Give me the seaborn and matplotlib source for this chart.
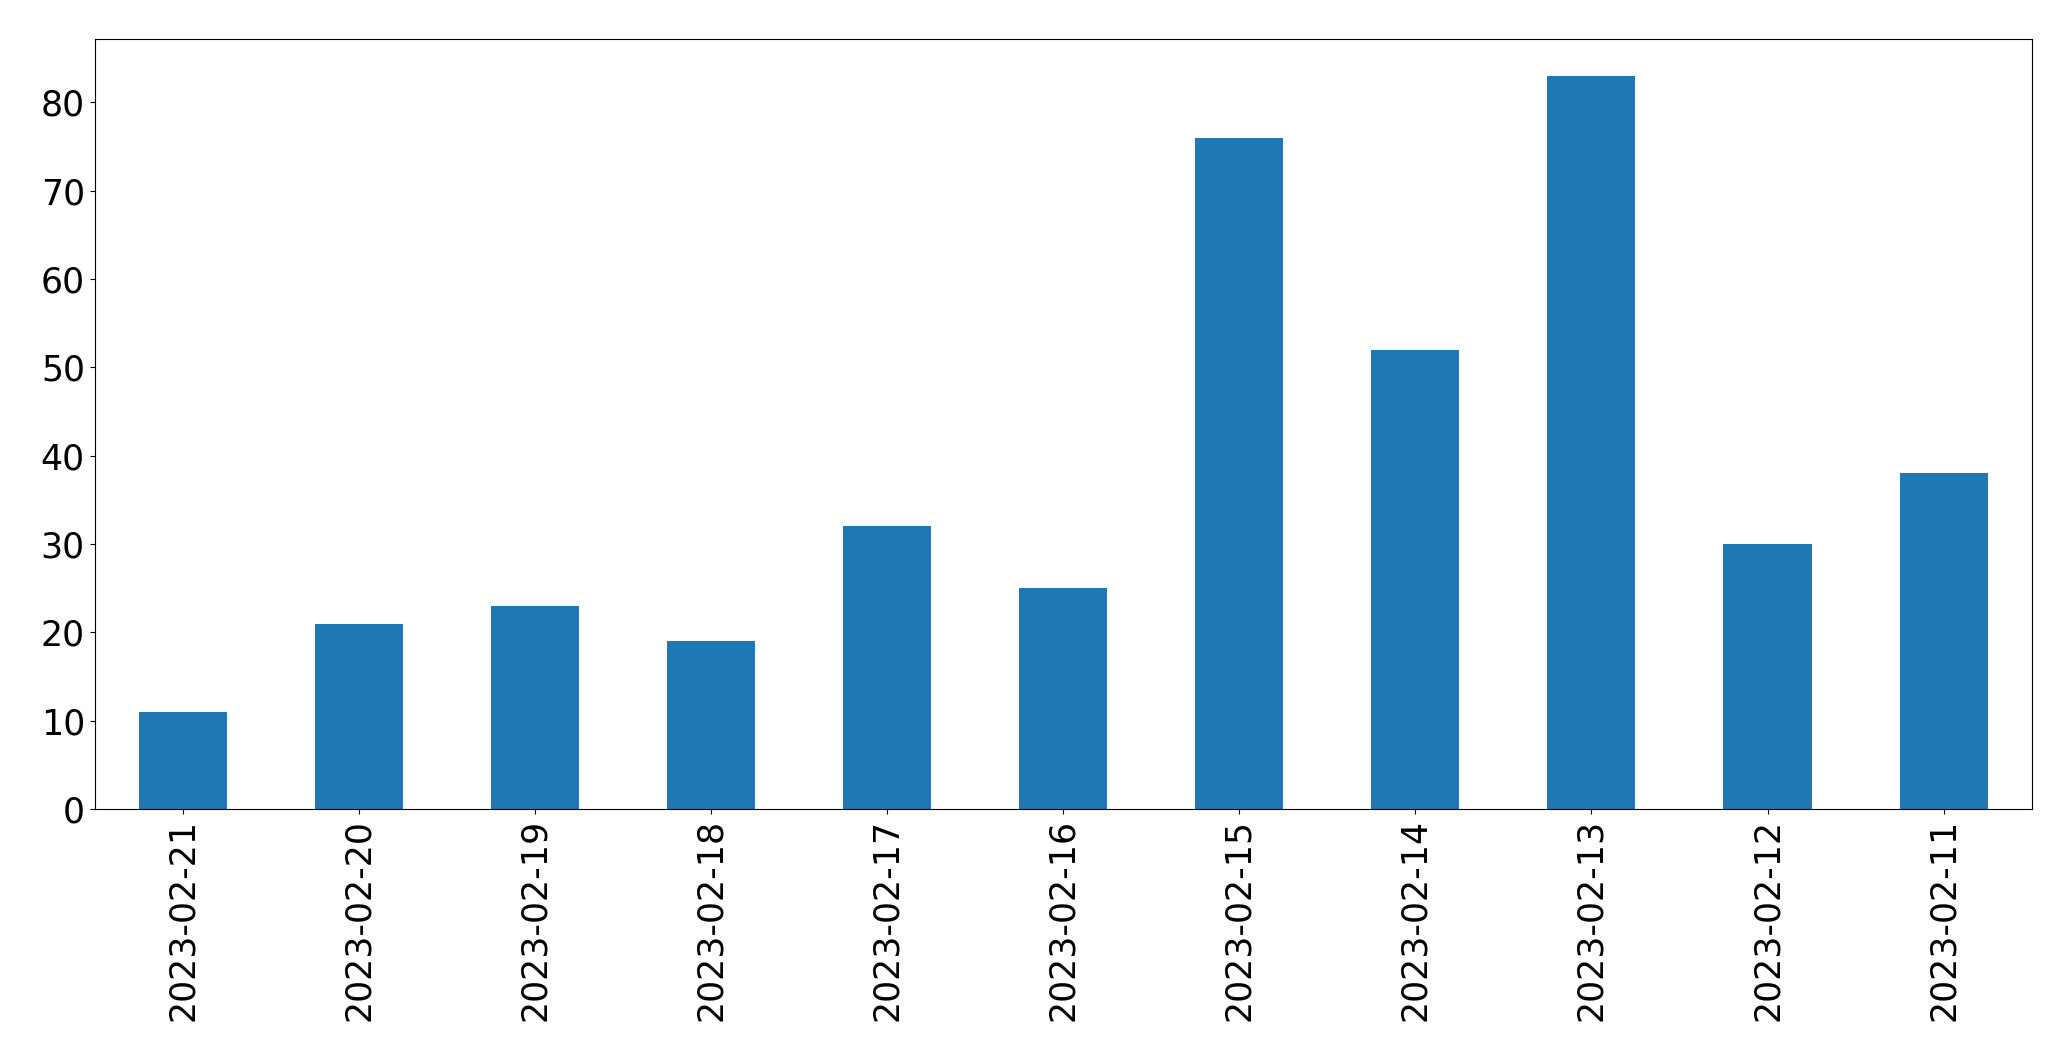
import pandas as pd
import seaborn as sns
import matplotlib.pyplot as plt

# 每日计数（按原图顺序，日期倒序）
dates = ['2023-02-21', '2023-02-20', '2023-02-19', '2023-02-18', '2023-02-17',
         '2023-02-16', '2023-02-15', '2023-02-14', '2023-02-13', '2023-02-12',
         '2023-02-11']
counts = [11, 21, 23, 19, 32, 25, 76, 52, 83, 30, 38]

df = pd.DataFrame({'date': dates, 'count': counts})

fig, ax = plt.subplots(figsize=(20.71, 10.61), dpi=100)
sns.barplot(data=df, x='date', y='count', order=dates, color='#1f77b4',
            saturation=1, width=0.5, ax=ax)

ax.set_xlim(-0.5, len(dates) - 0.5)
ax.set_ylim(0, max(counts) * 1.05)
ax.set_xlabel('')
ax.set_ylabel('')
ax.tick_params(axis='both', labelsize=25)
ax.tick_params(axis='x', labelrotation=90)

plt.subplots_adjust(left=0.0457, right=0.981, top=0.963, bottom=0.2375)
plt.savefig('out.png', dpi=100)
